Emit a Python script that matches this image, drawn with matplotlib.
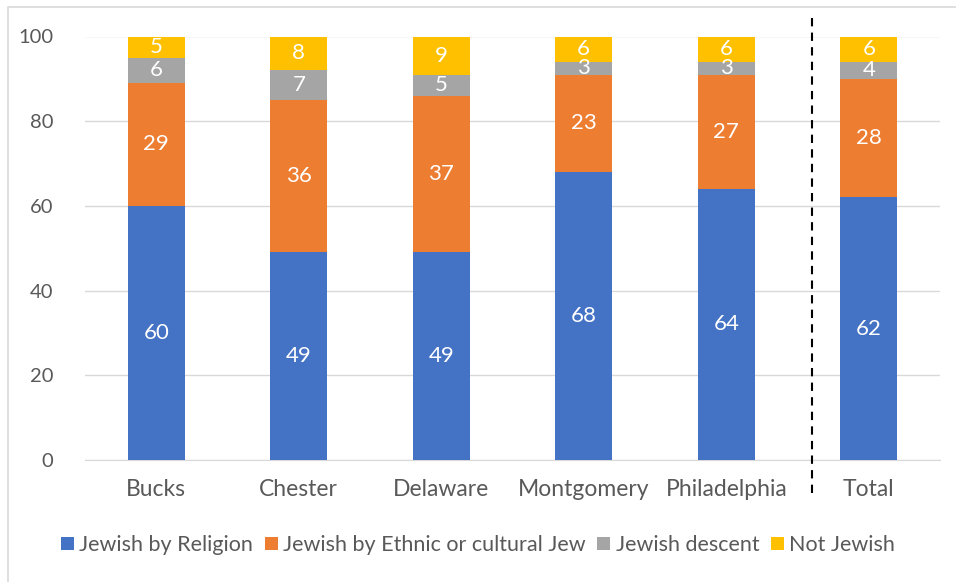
import matplotlib
matplotlib.use("Agg")
import matplotlib.pyplot as plt
from matplotlib.patches import Rectangle
import numpy as np

plt.rcParams['font.family'] = ['Lato', 'DejaVu Sans']

categories = ["Bucks", "Chester", "Delaware", "Montgomery", "Philadelphia", "Total"]
religion = [60, 49, 49, 68, 64, 62]
ethnic = [29, 36, 37, 23, 27, 28]
descent = [6, 7, 5, 3, 3, 4]
not_jewish = [5, 8, 9, 6, 6, 6]
series_names = ["Jewish by Religion", "Jewish by Ethnic or cultural Jew", "Jewish descent", "Not Jewish"]
colors = ["#4472C4", "#ED7D31", "#A5A5A5", "#FFC000"]
yticks = [0, 20, 40, 60, 80, 100]

fig = plt.figure(figsize=(9.56, 5.82), dpi=100)
ax = fig.add_axes([85/956, 1-460/582, (940-85)/956, (460-36.5)/582])

x = np.arange(len(categories))
bottom = np.zeros(len(categories))
for vals, name, c in zip([religion, ethnic, descent, not_jewish], series_names, colors):
    vals = np.array(vals, dtype=float)
    ax.bar(x, vals, width=0.4, bottom=bottom, color=c, label=name, zorder=3)
    for xi, b, v in zip(x, bottom, vals):
        ax.text(xi, b + v/2, f"{int(v)}", ha='center', va='center', color='white',
                fontsize=16, zorder=4)
    bottom += vals

ax.set_xlim(-0.5, len(categories) - 0.5)
ax.set_ylim(0, 100)
ax.set_yticks(yticks)
ax.set_xticks(x)
ax.set_xticklabels(categories)
ax.grid(axis='y', color='#D9D9D9', linewidth=1, zorder=0)
for s in ['top', 'right', 'left']:
    ax.spines[s].set_visible(False)
ax.spines['bottom'].set_color('#D9D9D9')
ax.tick_params(axis='both', length=0, labelcolor='#595959')
ax.tick_params(axis='x', pad=14, labelsize=16.5)
ax.tick_params(axis='y', pad=23, labelsize=14.5)

# dashed separator line between Philadelphia and Total
trans = ax.get_xaxis_transform()
ax.plot([4.6, 4.6], [(460-18)/(460-36.5), (460-495)/(460-36.5)], transform=trans,
        color='black', linestyle=(0, (4, 3)), linewidth=1.5, clip_on=False, zorder=5)

leg = fig.legend(loc='center', bbox_to_anchor=(0.5, 1-545/582), ncol=4, frameon=False,
                 fontsize=15.5, handlelength=0.6, handleheight=0.6, handletextpad=0.25,
                 columnspacing=0.55, labelcolor='#595959')

# chart border
fig.patches.append(Rectangle((8/956, -0.01), 1.0, 1-7/582 + 0.01, transform=fig.transFigure,
                             fill=False, edgecolor='#D9D9D9', linewidth=1.2))

fig.savefig("out.png", dpi=100)
